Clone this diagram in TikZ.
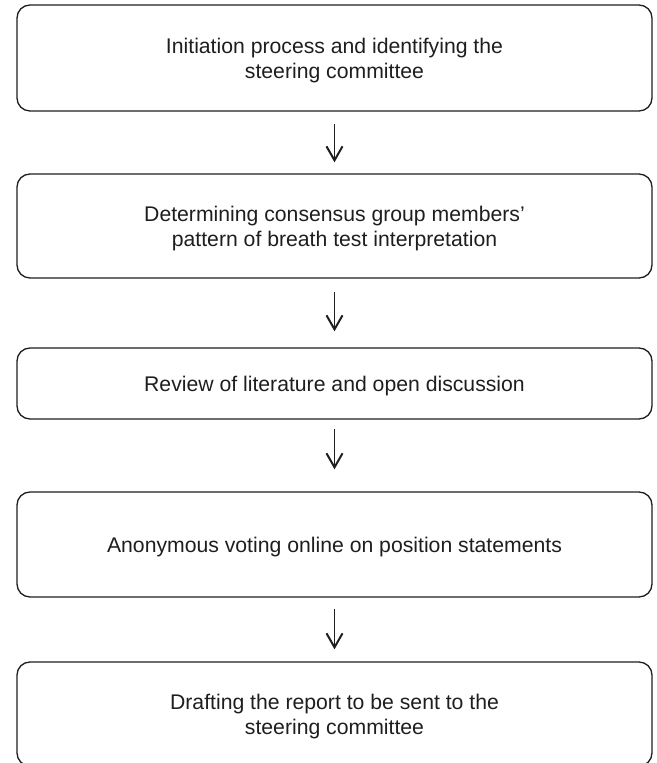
\documentclass[tikz,border=0pt]{standalone}
\usepackage{fontspec}
\setmainfont{Liberation Sans}
\usetikzlibrary{arrows.meta}
\definecolor{ink}{HTML}{1E1E1E}
\begin{document}
\begin{tikzpicture}[x=1pt,y=1pt,
  stepbox/.style={draw=ink, line width=1.3pt, rounded corners=13pt, minimum width=635pt, inner sep=0pt},
  steptext/.style={align=center, text=ink, inner sep=0pt, yshift=-3pt,
    font=\fontsize{21.2}{25}\selectfont},
  flow/.style={draw=ink, line width=1.7pt, -{Straight Barb[length=14pt,width=16pt,line width=2pt]}}]
\useasboundingbox (0,0) rectangle (656,763);
\node[stepbox, minimum height=106pt] (b1) at (334.5,705) {};
\node[stepbox, minimum height=104pt] (b2) at (334.5,537) {};
\node[stepbox, minimum height=71pt] (b3) at (334.5,379.5) {};
\node[stepbox, minimum height=105pt] (b4) at (334.5,218.5) {};
\node[stepbox, minimum height=104pt] (b5) at (334.5,49) {};
\node[steptext] (t1) at (b1.center) {Initiation process and identifying the\\steering committee};
\node[steptext] (t2) at (b2.center) {Determining consensus group members’\\pattern of breath test interpretation};
\node[steptext] (t3) at (b3.center) {Review of literature and open discussion};
\node[steptext] (t4) at (b4.center) {Anonymous voting online on position statements};
\node[steptext] (t5) at (b5.center) {Drafting the report to be sent to the\\steering committee};
\draw[flow, shorten <=12pt, shorten >=11pt] (b1.south) -- (b2.north);
\draw[flow, shorten <=13pt, shorten >=16pt] (b2.south) -- (b3.north);
\draw[flow, shorten <=9pt, shorten >=22pt] (b3.south) -- (b4.north);
\draw[flow, shorten <=11pt, shorten >=12pt] (b4.south) -- (b5.north);
\end{tikzpicture}
\end{document}
